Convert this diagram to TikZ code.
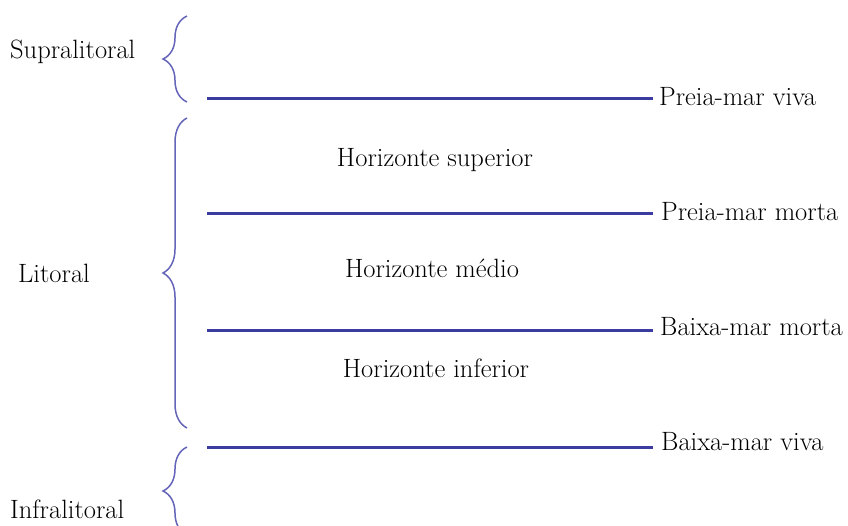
\documentclass[tikz,border=0pt]{standalone}
\usetikzlibrary{decorations.pathreplacing, positioning}
\definecolor{lvlblue}{RGB}{60,60,160}
\definecolor{brcblue}{RGB}{100,100,185}

\begin{document}
\begin{tikzpicture}[
    x=1pt, y=-1pt,
    font=\fontsize{26.5}{32}\selectfont,
    zone/.style={inner sep=0pt, anchor=west},
    tide/.style={inner sep=0pt, anchor=west},
    hor/.style={inner sep=0pt},
    lvl/.style={draw=lvlblue, line width=3pt},
    brc/.style={draw=brcblue, line width=1.5pt, decorate, decoration={brace, amplitude=24pt}}
]
\clip (0,0) rectangle (848,525);

% tide levels
\node[tide] (pmv) at (659,97)  {Preia-mar viva};
\node[tide] (pmm) at (661,212) {Preia-mar morta};
\node[tide] (bmm) at (660,327) {Baixa-mar morta};
\node[tide] (bmv) at (661,442) {Baixa-mar viva};

\coordinate (l1) at (207,98);
\coordinate (l2) at (207,213);
\coordinate (l3) at (207,330);
\coordinate (l4) at (207,447);

\draw[lvl] (l1) -- ([xshift=-6pt]pmv.west |- l1);
\draw[lvl] (l2) -- ([xshift=-8pt]pmm.west |- l2);
\draw[lvl] (l3) -- ([xshift=-7pt]bmm.west |- l3);
\draw[lvl] (l4) -- ([xshift=-8pt]bmv.west |- l4);

% horizons
\node[hor] (hsup) at (435,160) {Horizonte superior};
\node[hor] (hmed) at (432,268) {Horizonte médio};
\node[hor] (hinf) at (436,368) {Horizonte inferior};

% zones
\node[zone] (supra) at (10,52)  {Supralitoral};
\node[zone] (lito)  at (18,273) {Litoral};
\node[zone] (infra) at (10,509) {Infralitoral};

\coordinate (b1s) at (187,102);
\coordinate (b1e) at (187,16);
\coordinate (b2s) at (187,428);
\coordinate (b2e) at (187,118);
\coordinate (b3s) at (187,535);
\coordinate (b3e) at (187,447);

\draw[brc] (b1s) -- (b1e);
\draw[brc] (b2s) -- (b2e);
\draw[brc] (b3s) -- (b3e);
\end{tikzpicture}
\end{document}
